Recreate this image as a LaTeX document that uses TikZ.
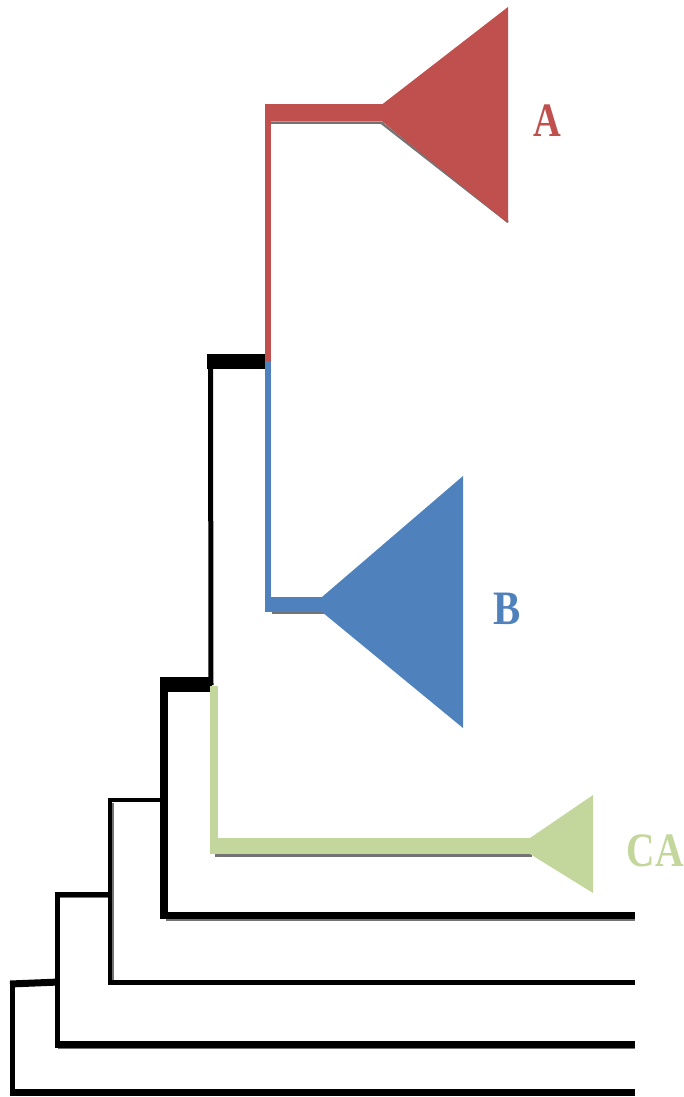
\documentclass[tikz,border=0pt]{standalone}
\usepackage{fontspec}
\setmainfont{Liberation Serif}
\definecolor{cladeA}{HTML}{C0504D}
\definecolor{cladeB}{HTML}{4F81BD}
\definecolor{cladeCA}{HTML}{C3D69B}
\begin{document}
\begin{tikzpicture}[x=1pt,y=-1pt,
  shadowline/.style={draw=black!55,line width=2.4pt},
  lab/.style={font=\fontsize{48}{48}\selectfont\bfseries,inner sep=0pt}]
\useasboundingbox (0,0) rectangle (684,1097);
% coordinates of the tree
\coordinate (rA) at (268,113);
\coordinate (rAB) at (268,361);
\coordinate (rB) at (268,604.5);
\coordinate (n1) at (210.5,361);
\coordinate (n2) at (164,684.5);
\coordinate (n3) at (110,800);
\coordinate (n4) at (57,894);
\coordinate (n5) at (12,984);
% shadows
\draw[shadowline] (271,122.6) -- (381,122.6) -- (508,222);
\draw[shadowline] (272,613) -- (329,613);
\draw[shadowline] (215,855.5) -- (532,855.5);
\draw[shadowline] (166,919.5) -- (635,919.5);
\draw[shadowline] (58,897) -- (108,897);
\draw[shadowline] (58,1048) -- (635,1048);
\draw[shadowline] (112.5,803) -- (112.5,980);
% clade A (red)
\fill[cladeA] (382,104.5) -- (508,7) -- (508,223) -- (382,121.5) -- cycle;
\draw[cladeA,line width=17pt] (265,113) -- (383,113);
\draw[cladeA,line width=6pt] (rA) -- (rAB);
\node[lab,text=cladeA] (labA) at (547,121) {\scalebox{0.8}[1]{A}};
% clade B (blue)
\fill[cladeB] (322,597) -- (463,476) -- (463,728) -- (322,612) -- cycle;
\draw[cladeB,line width=6pt] (rAB) -- (268,612);
\draw[cladeB,line width=15pt] (265,604.5) -- (323,604.5);
\node[lab,text=cladeB] (labB) at (507,609) {\scalebox{0.85}[1]{B}};
% black backbone
\draw[line width=15pt] (207,361) -- (265,361);
\draw[line width=5pt] (n1) -- (211,685);
\draw[line width=15pt] (160,684.5) -- (212,684.5);
% clade CA (green)
\fill[cladeCA] (530,838) -- (593,795) -- (593,893) -- (530,854) -- cycle;
\draw[cladeCA,line width=8pt] (214,686) -- (214,854);
\draw[cladeCA,line width=16pt] (210,846) -- (531,846);
\node[lab,text=cladeCA] (labCA) at (655,851) {\scalebox{0.82}[1]{CA}};
% lower black branches
\draw[line width=8pt] (164,677) -- (164,918.5) ;
\draw[line width=7pt] (160,915) -- (635,915);
\draw[line width=4pt] (108,800) -- (166,800);
\draw[line width=4pt] (n3) -- (110,984);
\draw[line width=5pt] (108,982) -- (635,982);
\draw[line width=5pt] (55,894) -- (112,894);
\draw[line width=5pt] (n4) -- (57,1047.5);
\draw[line width=7pt] (55,1044) -- (635,1044);
\draw[line width=7pt] (10,984) -- (59,982);
\draw[line width=5pt] (n5) -- (12,1095);
\draw[line width=7pt] (10,1092) -- (635,1092);
\end{tikzpicture}
\end{document}
